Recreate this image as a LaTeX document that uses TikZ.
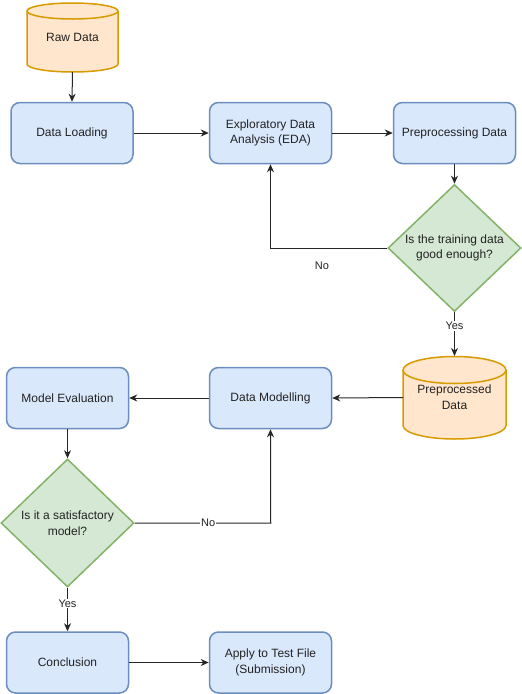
\documentclass[tikz,border=0pt]{standalone}
\usepackage{fontspec}
\setmainfont{Liberation Sans}
\usetikzlibrary{arrows.meta,shapes.geometric}
\definecolor{bfill}{HTML}{DAE8FC}
\definecolor{bdraw}{HTML}{6C8EBF}
\definecolor{ofill}{HTML}{FFE6CC}
\definecolor{odraw}{HTML}{D79B00}
\definecolor{gfill}{HTML}{D5E8D4}
\definecolor{gdraw}{HTML}{82B366}
\definecolor{txt}{HTML}{222222}
\tikzset{
  x=1pt,y=1pt,
  every node/.style={text=txt,font=\fontsize{12}{15.5}\selectfont},
  stepbox/.style={draw=bdraw,fill=bfill,line width=1.5pt,rounded corners=9pt,minimum width=122pt,minimum height=61pt,align=center,inner sep=0pt},
  decision/.style={draw=gdraw,fill=gfill,line width=1.5pt,diamond,minimum width=133pt,minimum height=127pt,align=center,inner sep=0pt},
  cyl/.style={draw=odraw,fill=ofill,line width=1.5pt},
  frame/.style={inner sep=0pt,outer sep=0pt},
  conn/.style={draw=black!85,line width=1pt,-{Stealth[length=8pt,width=7pt,inset=2.5pt]}},
  elabel/.style={fill=white,inner sep=1pt,font=\fontsize{11}{13}\selectfont},
}
\begin{document}
\begin{tikzpicture}
\useasboundingbox (0,0) rectangle (522,-694);
% Raw Data cylinder
\draw[cyl] (27,-11) -- (27,-64) arc[start angle=180,end angle=360,x radius=45.5pt,y radius=8pt] -- (118,-11) arc[start angle=0,end angle=180,x radius=45.5pt,y radius=8pt] -- cycle;
\draw[cyl,fill=none] (27,-11) arc[start angle=180,end angle=360,x radius=45.5pt,y radius=8pt];
\node[frame,minimum width=91pt,minimum height=69pt] (raw) at (72.5,-37.5) {};
\node at (72.5,-37) {Raw Data};
% Preprocessed Data cylinder
\draw[cyl] (403,-370) -- (403,-425.5) arc[start angle=180,end angle=360,x radius=51.5pt,y radius=13.5pt] -- (506,-370) arc[start angle=0,end angle=180,x radius=51.5pt,y radius=13.5pt] -- cycle;
\draw[cyl,fill=none] (403,-370) arc[start angle=180,end angle=360,x radius=51.5pt,y radius=13.5pt];
\node[frame,minimum width=103pt,minimum height=83pt] (prep) at (454.5,-397.5) {};
\node[align=center] at (454.5,-397) {Preprocessed\\Data};
% Boxes
\node[stepbox] (load) at (72,-133) {Data Loading};
\node[stepbox] (eda) at (270.5,-133) {Exploratory Data\\Analysis (EDA)};
\node[stepbox] (pre) at (454.5,-133) {Preprocessing Data};
\node[decision] (q1) at (454.5,-248) {Is the training data\\good enough?};
\node[stepbox] (model) at (270.5,-398) {Data Modelling};
\node[stepbox] (eval) at (67.5,-398) {Model Evaluation};
\node[decision,minimum height=128pt] (q2) at (67.5,-523) {Is it a satisfactory\\model?};
\node[stepbox] (conc) at (67.5,-662.5) {Conclusion};
\node[stepbox] (apply) at (270.5,-662.5) {Apply to Test File\\(Submission)};
% Connectors
\draw[conn] (raw.south) -- (load.north);
\draw[conn] (load.east) -- (eda.west);
\draw[conn] (eda.east) -- (pre.west);
\draw[conn] (pre.south) -- (q1.north);
\draw[conn] (q1.west) -| (eda.south);
\node[font=\fontsize{11}{13}\selectfont] (no1) at (322,-266) {No};
\draw[conn] (q1.south) -- node[elabel,pos=0.31] (yes1) {Yes} (prep.north);
\draw[conn] (prep.west) -- (model.east);
\draw[conn] (model.west) -- (eval.east);
\draw[conn] (eval.south) -- (q2.north);
\draw[conn] (q2.east) -- node[elabel,pos=0.54] (no2) {No} ++(136,0) coordinate (c2) -- (model.south);
\draw[conn] (q2.south) -- node[elabel,pos=0.36] (yes2) {Yes} (conc.north);
\draw[conn] (conc.east) -- (apply.west);
\end{tikzpicture}
\end{document}
